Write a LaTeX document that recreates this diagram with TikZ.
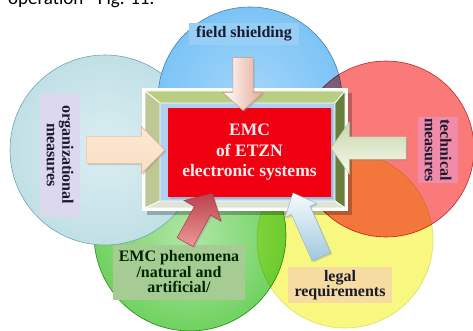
\documentclass[tikz,border=0pt]{standalone}
\usepackage{fontspec}
\setmainfont{Liberation Serif}
\newfontfamily\capfont{Carlito}
\usepackage{tikz}
\usetikzlibrary{positioning}
\usetikzlibrary{shapes.arrows}
\usetikzlibrary{shadows}
\definecolor{cCyan}{RGB}{192,224,230}
\definecolor{cCyanEdge}{RGB}{110,166,176}
\definecolor{cBlue}{RGB}{124,196,246}
\definecolor{cBlueEdge}{RGB}{70,128,178}
\definecolor{cRed}{RGB}{250,122,122}
\definecolor{cRedEdge}{RGB}{196,56,56}
\definecolor{cGreen}{RGB}{112,210,96}
\definecolor{cGreenEdge}{RGB}{60,150,50}
\definecolor{cYellow}{RGB}{248,248,128}
\definecolor{cYellowEdge}{RGB}{222,222,104}
\definecolor{cInk}{RGB}{26,26,46}
\definecolor{cBoxRed}{RGB}{240,0,16}
\definecolor{cBoxText}{RGB}{255,236,236}
\definecolor{cBevTop}{RGB}{184,206,128}
\definecolor{cBevLeft}{RGB}{190,200,148}
\definecolor{cBevRight}{RGB}{106,126,60}
\definecolor{cBevBot}{RGB}{222,228,214}
\definecolor{cRim}{RGB}{176,208,238}
\definecolor{cFieldBg}{RGB}{150,206,246}
\definecolor{cOrgBg}{RGB}{220,216,238}
\definecolor{cTechBg}{RGB}{240,140,170}
\definecolor{cPhenBg}{RGB}{166,204,148}
\definecolor{cLegalBg}{RGB}{246,220,160}
\tikzstyle{venn} = [line width=0.6pt]
\tikzstyle{lbl} = [font=\bfseries\fontsize{16}{15.5}\selectfont, text=cInk, align=center, inner sep=0pt]
\tikzstyle{blockArrow} = [single arrow, line width=0.4pt, inner xsep=0pt, minimum width=0pt,
    drop shadow={opacity=0.3, shadow xshift=1.5pt, shadow yshift=-1.5pt}]
\begin{document}
\begin{tikzpicture}[x=1pt,y=-1pt]
  \useasboundingbox (0,0) rectangle (473,331);
  \node[anchor=base west,inner sep=0pt,font=\capfont\fontsize{19}{22}\selectfont] (nCap) at (8,5) {operation - Fig. 11.};
  % circles
  \draw[venn,fill=cYellow,draw=cYellowEdge]                    (345,240) circle[radius=88];
  \draw[venn,inner color=cGreen!55!white,outer color=cGreen,draw=cGreenEdge,blend mode=multiply] (190,235) circle[radius=96];
  \draw[venn,inner color=cCyan!55!white,outer color=cCyan,draw=cCyanEdge] (105,150) circle[radius=95];
  \draw[venn,inner color=cBlue!70!white,outer color=cBlue,draw=cBlueEdge] (250,99)  circle[radius=92];
  \draw[venn,fill=cRed,draw=cRedEdge,blend mode=multiply]     (386,149) circle[radius=88];
  % labels
  \node at (244,34)  [lbl,fill=cFieldBg,minimum width=110,minimum height=22]            (nField) {field shielding};
  \node at (60,155)  [lbl,fill=cOrgBg,rotate=-90,minimum width=124,minimum height=40]   (nOrg)   {organizational\\measures};
  \node at (438,150) [lbl,fill=cTechBg,rotate=-90,minimum width=66,minimum height=40]   (nTech)  {technical\\measures};
  \node at (179,272) [lbl,fill=cPhenBg,minimum width=132,minimum height=55,text=black!85!green] (nPhen) {EMC phenomena\\/natural and\\artificial/};
  \node at (340,285) [lbl,fill=cLegalBg,minimum width=104,minimum height=36]           (nLegal) {legal\\requirements};
  % frame
  \fill[black,opacity=0.25] (147,93) rectangle (352,215);
  \fill[white] (142,88) rectangle (348,211);
  \coordinate (oTL) at (145,91);  \coordinate (oTR) at (345,91);
  \coordinate (oBR) at (345,208); \coordinate (oBL) at (145,208);
  \coordinate (iTL) at (160,103); \coordinate (iTR) at (335,103);
  \coordinate (iBR) at (335,201); \coordinate (iBL) at (160,201);
  \fill[cRim] (iTL) rectangle (iBR);
  \draw[white,line width=0.8pt,fill=cBevTop]   (oTL) -- (oTR) -- (iTR) -- (iTL) -- cycle;
  \draw[white,line width=0.8pt,fill=cBevLeft]  (oTL) -- (iTL) -- (iBL) -- (oBL) -- cycle;
  \draw[white,line width=0.8pt,fill=cBevRight] (oTR) -- (oBR) -- (iBR) -- (iTR) -- cycle;
  \draw[white,line width=0.8pt,fill=cBevBot]   (oBL) -- (iBL) -- (iBR) -- (oBR) -- cycle;
  \node at (249.5,152.5) [fill=cBoxRed,minimum width=163,minimum height=89,inner sep=0pt,align=center,text=cBoxText,
        font=\bfseries\fontsize{17.5}{20.5}\selectfont,drop shadow={opacity=0.3,shadow xshift=1.5pt,shadow yshift=-1.5pt}] (nEMC) {EMC\\of ETZN\\electronic systems};
  % block arrows
  \node at (243,79.5)    [blockArrow,rotate=-90,minimum height=53,inner ysep=10,single arrow head extend=10,single arrow tip angle=96,
        left color=white,right color={rgb,255:red,228;green,168;blue,148},draw={rgb,255:red,206;green,146;blue,128}] (aField) {};
  \node at (119,150)     [blockArrow,minimum height=78,inner ysep=13.5,single arrow head extend=10,single arrow tip angle=91,
        top color={rgb,255:red,252;green,232;blue,212},middle color={rgb,255:red,246;green,192;blue,146},bottom color={rgb,255:red,250;green,222;blue,196},
        draw={rgb,255:red,222;green,170;blue,130}] (aOrg) {};
  \node at (372.5,148)   [blockArrow,rotate=180,minimum height=75,inner ysep=11,single arrow head extend=15,single arrow tip angle=110,
        top color={rgb,255:red,200;green,214;blue,170},middle color={rgb,255:red,232;green,238;blue,214},bottom color={rgb,255:red,248;green,250;blue,238},
        draw={rgb,255:red,180;green,196;blue,150}] (aTech) {};
  \node at (196.5,221.5) [blockArrow,rotate=61,minimum height=56,inner ysep=9,single arrow head extend=12,single arrow tip angle=93,
        top color={rgb,255:red,186;green,66;blue,76},bottom color={rgb,255:red,238;green,152;blue,152},draw={rgb,255:red,160;green,50;blue,60}] (aPhen) {};
  \node at (309.5,230)   [blockArrow,rotate=114,minimum height=70,inner ysep=10,single arrow head extend=7,single arrow tip angle=84,
        top color={rgb,255:red,246;green,251;blue,253},bottom color={rgb,255:red,160;green,200;blue,222},draw={rgb,255:red,140;green,176;blue,196}] (aLegal) {};
\end{tikzpicture}
\end{document}
